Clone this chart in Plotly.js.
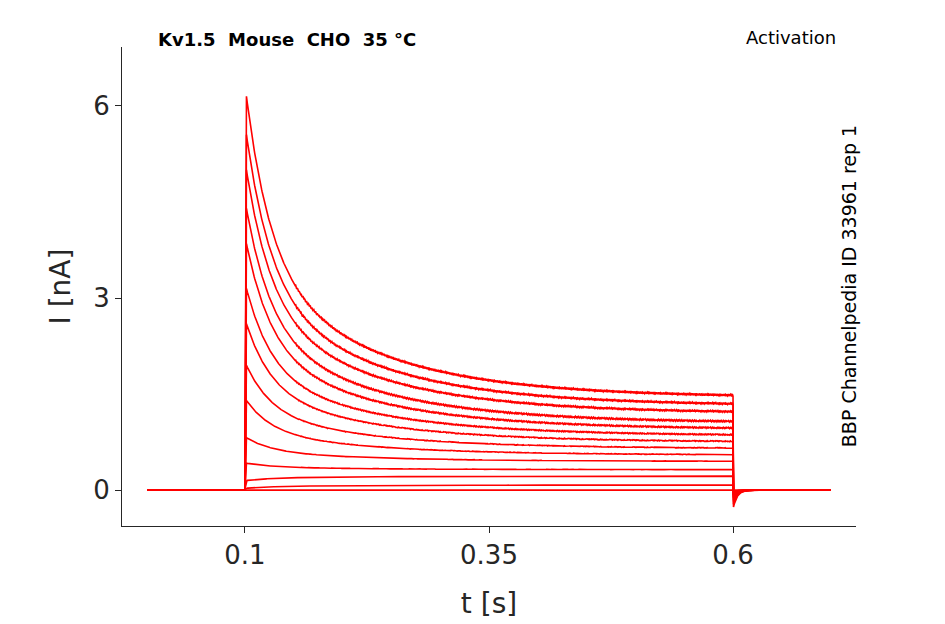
<!DOCTYPE html>
<html>
<head>
<meta charset="utf-8">
<script src="https://cdn.plot.ly/plotly-3.0.1.min.js"></script>
<style>body{margin:0;background:#fff}</style>
</head>
<body>
<div id="chart" style="width:945px;height:624px"></div>
<script>
// per-sweep readings: peak at pulse onset, level at pulse end (nA)
const peakAmps = [6.15, 5.55, 5.0, 4.4, 3.85, 3.15, 2.6, 1.95, 1.4, 0.82, 0.42, 0.15, 0.03, 0.01];
const endAmps  = [1.45, 1.32, 1.2, 1.05, 0.95, 0.85, 0.75, 0.65, 0.55, 0.45, 0.32, 0.22, 0.08, 0.01];
const tailDips = [-0.3, -0.25, -0.2, -0.17, -0.14, -0.12, -0.1, -0.08, -0.06, -0.05, -0.04, -0.03, -0.02, 0];
const tStart = 0, tOn = 0.1, tOff = 0.6, tEnd = 0.7, dt = 0.0005;

const traces = peakAmps.map((pk, i) => {
  const x = [], y = [];
  const ss = endAmps[i];
  for (let k = 0; k <= Math.round((tEnd - tStart) / dt); k++) {
    const t = tStart + k * dt;
    let v = 0;
    if (t >= tOn && t <= tOff) {
      const s = t - tOn;
      const rise = s >= 0.0015 ? 1 : s / 0.0015;
      const d = Math.max(0, s - 0.0015);
      v = rise * (ss + (pk - ss) * (0.55 * Math.exp(-d / 0.025) + 0.45 * Math.exp(-d / 0.12)));
      v += 0.015 * pk / 6 * Math.sin(k * 1.7) * (s > 0.05 ? 1 : 0);
    } else if (t > tOff) {
      v = tailDips[i] * Math.exp(-(t - tOff) / 0.004);
    }
    x.push(t); y.push(v);
  }
  return {x, y, type: 'scatter', mode: 'lines', line: {color: '#ff0000', width: 1.6}, hoverinfo: 'skip'};
});

const layout = {
  width: 945, height: 624,
  margin: {l: 122, r: 89, t: 47, b: 98},
  paper_bgcolor: '#fff', plot_bgcolor: '#fff',
  showlegend: false,
  font: {family: 'DejaVu Sans', color: '#262626'},
  xaxis: {
    range: [-0.026, 0.726], tickvals: [0.1, 0.35, 0.6], ticktext: ['0.1', '0.35', '0.6'],
    showgrid: false, zeroline: false, showline: true, linecolor: '#262626', linewidth: 1,
    ticks: 'outside', ticklen: 6, tickcolor: '#262626', tickfont: {size: 26},
    title: {text: 't [s]', font: {size: 28}, standoff: 24}
  },
  yaxis: {
    range: [-0.56, 6.92], tickvals: [0, 3, 6], ticktext: ['0', '3', '6'],
    showgrid: false, zeroline: false, showline: true, linecolor: '#262626', linewidth: 1,
    ticks: 'outside', ticklen: 6, tickcolor: '#262626', tickfont: {size: 26},
    title: {text: 'I [nA]', font: {size: 28}, standoff: 14}
  },
  annotations: [
    {text: '<b>Kv1.5  Mouse  CHO  35 °C</b>', xref: 'paper', yref: 'paper', x: 0.047, y: 1.015,
     xanchor: 'left', yanchor: 'middle', showarrow: false, font: {size: 18, color: '#000'}},
    {text: 'Activation', xref: 'paper', yref: 'paper', x: 0.976, y: 1.02,
     xanchor: 'right', yanchor: 'middle', showarrow: false, font: {size: 18, color: '#000'}},
    {text: 'BBP Channelpedia ID 33961 rep 1', xref: 'paper', yref: 'paper', x: 0.99, y: 0.5,
     xanchor: 'center', yanchor: 'middle', textangle: -90, showarrow: false, font: {size: 19, color: '#000'}}
  ]
};

Plotly.newPlot('chart', traces, layout, {displayModeBar: false, staticPlot: true});
</script>
</body>
</html>
